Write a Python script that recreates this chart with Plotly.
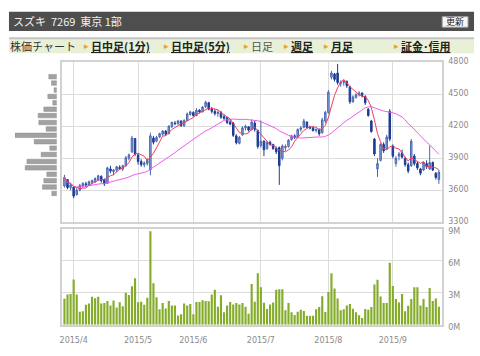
import plotly.graph_objects as go
import pandas as pd

# ---------------- data ----------------
mar = [27, 30, 31]
apr = [1, 2, 3, 6, 7, 8, 9, 10, 13, 14, 15, 16, 17, 20, 21, 22, 23, 24, 27, 28, 30]
may = [1, 7, 8, 11, 12, 13, 14, 15, 18, 19, 20, 21, 22, 25, 26, 27, 28, 29]
jun = [1, 2, 3, 4, 5, 8, 9, 10, 11, 12, 15, 16, 17, 18, 19, 22, 23, 24, 25, 26, 29, 30]
jul = [1, 2, 3, 6, 7, 8, 9, 10, 13, 14, 15, 16, 17, 21, 22, 23, 24, 27, 28, 29, 30, 31]
aug = [3, 4, 5, 6, 7, 10, 11, 12, 13, 14, 17, 18, 19, 20, 21, 24, 25, 26, 27, 28, 31]
sep = [1, 2, 3, 4, 7, 8, 9, 10, 11, 14, 15, 16, 17, 18, 24, 25]
dates = [f"2015-{m:02d}-{d:02d}" for m, days in
         ((3, mar), (4, apr), (5, may), (6, jun), (7, jul), (8, aug), (9, sep)) for d in days]

opens = [3640, 3700, 3625, 3630, 3560, 3600, 3640, 3660, 3650, 3675, 3680, 3700, 3730, 3700, 3665,
         3800, 3775, 3790, 3815, 3800, 3830, 3900, 3960, 4085, 3930, 3870, 3840, 3850, 3790, 4090,
         4060, 4100, 4125, 4155, 4130, 4195, 4230, 4225, 4250, 4205, 4255, 4310, 4330, 4300, 4350,
         4335, 4385, 4420, 4360, 4340, 4320, 4330, 4290, 4280, 4240, 4230, 4110, 4040, 4120, 4185,
         4195, 4170, 4230, 4160, 4020, 4060, 3990, 4050, 4030, 3990, 4000, 3900, 4000, 4010, 4075,
         4110, 4100, 4170, 4190, 4240, 4190, 4185, 4160, 4170, 4140, 4250, 4330, 4660, 4690, 4700,
         4600, 4610, 4620, 4570, 4430, 4470, 4495, 4510, 4480, 4360, 4250, 4080, 3800, 3880, 4030,
         3990, 4340, 4010, 3850, 3920, 3950, 3900, 3840, 3830, 3920, 3850, 3800, 3790, 3850, 3800,
         3860, 3760, 3700]
highs = [3745, 3705, 3670, 3640, 3620, 3660, 3675, 3680, 3690, 3700, 3720, 3745, 3740, 3710, 3820,
         3830, 3800, 3830, 3835, 3840, 3920, 3945, 4110, 4090, 3945, 3890, 3870, 3900, 4140, 4110,
         4110, 4140, 4165, 4165, 4210, 4245, 4250, 4260, 4255, 4265, 4330, 4345, 4340, 4370, 4360,
         4390, 4440, 4430, 4380, 4360, 4350, 4345, 4310, 4290, 4260, 4240, 4125, 4110, 4200, 4215,
         4200, 4265, 4250, 4170, 4255, 4070, 4060, 4065, 4035, 4010, 4010, 4030, 4030, 4080, 4120,
         4125, 4180, 4200, 4270, 4245, 4205, 4200, 4180, 4180, 4280, 4345, 4540, 4720, 4700, 4785,
         4630, 4640, 4630, 4580, 4490, 4510, 4530, 4520, 4490, 4370, 4260, 4090, 3900, 4040, 4050,
         4120, 4360, 4030, 3920, 3960, 3980, 3910, 3860, 4080, 3940, 3870, 3810, 3870, 3880, 4020,
         3870, 3770, 3790]
lows = [3625, 3610, 3600, 3525, 3550, 3590, 3625, 3630, 3640, 3655, 3670, 3690, 3670, 3640, 3660,
        3760, 3740, 3770, 3790, 3780, 3820, 3880, 3950, 3920, 3840, 3820, 3815, 3830, 3740, 4030,
        4050, 4090, 4110, 4110, 4125, 4185, 4210, 4215, 4195, 4195, 4250, 4300, 4290, 4295, 4320,
        4330, 4370, 4350, 4320, 4300, 4290, 4270, 4260, 4220, 4210, 4100, 4030, 4030, 4110, 4160,
        4150, 4160, 4150, 3990, 4000, 3920, 3980, 4020, 3980, 3940, 3650, 3880, 3970, 4000, 4065,
        4080, 4095, 4150, 4180, 4180, 4170, 4150, 4140, 4110, 4130, 4230, 4320, 4640, 4620, 4590,
        4570, 4580, 4560, 4410, 4420, 4460, 4480, 4470, 4400, 4290, 4140, 3920, 3725, 3870, 3950,
        3980, 4060, 3900, 3820, 3880, 3900, 3820, 3760, 3820, 3830, 3790, 3740, 3780, 3800, 3790,
        3780, 3700, 3660]
closes = [3720, 3625, 3650, 3545, 3600, 3645, 3665, 3650, 3680, 3690, 3710, 3735, 3690, 3660, 3810,
          3780, 3790, 3820, 3800, 3830, 3905, 3930, 4090, 3940, 3870, 3840, 3855, 3880, 4110, 4050,
          4095, 4130, 4155, 4125, 4200, 4235, 4225, 4250, 4205, 4255, 4315, 4335, 4300, 4350, 4335,
          4380, 4425, 4360, 4340, 4320, 4330, 4285, 4275, 4235, 4220, 4115, 4045, 4095, 4185, 4200,
          4165, 4240, 4170, 4010, 4060, 3980, 4050, 4030, 3990, 3960, 3830, 4015, 4010, 4070, 4110,
          4095, 4170, 4185, 4250, 4190, 4185, 4160, 4170, 4130, 4260, 4330, 4520, 4700, 4640, 4610,
          4610, 4620, 4580, 4430, 4475, 4495, 4510, 4490, 4420, 4300, 4150, 3940, 3850, 4030, 3970,
          4100, 4080, 3920, 3900, 3940, 3910, 3840, 3780, 4060, 3850, 3810, 3760, 3860, 3820, 3860,
          3790, 3720, 3770]
volume_m = [2.44, 2.83, 2.89, 4.25, 2.83, 1.23, 1.27, 1.87, 1.99, 2.62, 2.50, 2.62, 1.99, 2.05, 2.23,
            1.81, 2.29, 1.63, 2.11, 1.75, 3.01, 2.80, 3.61, 4.37, 2.11, 2.17, 1.87, 2.53, 8.76, 3.89,
            2.59, 1.45, 2.05, 1.54, 2.23, 1.81, 1.81, 0.87, 1.00, 2.00, 1.81, 1.96, 1.00, 2.14, 2.14,
            2.30, 2.23, 2.20, 2.83, 3.28, 1.70, 2.77, 1.17, 1.80, 2.14, 1.90, 2.05, 1.90, 2.05, 1.70,
            1.05, 3.83, 2.17, 4.82, 3.52, 2.08, 1.48, 1.90, 2.10, 3.28, 3.34, 3.34, 1.36, 2.05, 1.17,
            0.93, 1.23, 1.42, 1.30, 0.84, 0.84, 0.84, 1.45, 1.66, 2.68, 1.20, 3.07, 4.82, 3.40, 2.47,
            1.36, 1.45, 1.80, 1.96, 1.50, 1.17, 0.90, 0.63, 1.48, 1.42, 1.66, 3.77, 4.22, 2.65, 2.05,
            2.05, 5.81, 3.64, 2.41, 2.10, 2.89, 1.27, 1.78, 2.41, 3.52, 3.52, 1.80, 2.41, 1.66, 3.46,
            2.23, 2.47, 1.69]

# price-band volume profile (relative)
profile_price = [4665, 4605, 4540, 4480, 4420, 4360, 4300, 4235, 4175, 4115,
                 4055, 3995, 3935, 3870, 3810, 3750, 3690, 3630, 3570]
profile_vol = [8, 5.3, 2.7, 9, 4, 13, 18.7, 18, 10.7, 42,
               22.7, 7, 15.7, 30, 31.7, 10, 13, 14.3, 5]

month_ticks = ["2015-04-01", "2015-05-01", "2015-06-01", "2015-07-01", "2015-08-03", "2015-09-01"]
month_labels = ["2015/4", "2015/5", "2015/6", "2015/7", "2015/8", "2015/9"]
price_ticks = [3300, 3600, 3900, 4200, 4500, 4800]
vol_ticks = [0, 3, 6, 9]
vol_labels = ["0M", "3M", "6M", "9M"]

ma5 = pd.Series(closes).rolling(5, min_periods=1).mean()
ma25 = pd.Series(closes).rolling(25, min_periods=1).mean()

# ---------------- figure ----------------
W, H = 480, 356
def px(x): return x / W
def py(y): return 1 - y / H

fig = go.Figure()

fig.add_trace(go.Candlestick(
    x=dates, open=opens, high=highs, low=lows, close=closes,
    increasing=dict(fillcolor="#8ea8d8", line=dict(color="#4a68b0", width=1)),
    decreasing=dict(fillcolor="#1d3c96", line=dict(color="#1d3c96", width=1)),
    whiskerwidth=0, xaxis="x", yaxis="y", showlegend=False, hoverinfo="skip"))
fig.add_trace(go.Scatter(x=dates, y=ma25, mode="lines", line=dict(color="#ee5cee", width=1),
                         xaxis="x", yaxis="y", showlegend=False, hoverinfo="skip"))
fig.add_trace(go.Scatter(x=dates, y=ma5, mode="lines", line=dict(color="#ee3f5f", width=1),
                         xaxis="x", yaxis="y", showlegend=False, hoverinfo="skip"))
fig.add_trace(go.Bar(x=dates, y=volume_m, marker=dict(color="#84ac2a", line=dict(width=0)),
                     xaxis="x2", yaxis="y2", showlegend=False, hoverinfo="skip"))
fig.add_trace(go.Bar(y=profile_price, x=profile_vol, orientation="h", width=42,
                     marker=dict(color="#a2a2a2", line=dict(color="#8c8c8c", width=0.5)),
                     xaxis="x3", yaxis="y3", showlegend=False, hoverinfo="skip"))

xr = [-0.78, 122.97]
tickfont = dict(family="DejaVu Sans", size=8, color="#8a8a8a")
common_x = dict(type="category", range=xr, tickvals=month_ticks, showgrid=True,
                gridcolor="#dcdcdc", gridwidth=1, showline=True, mirror=True,
                linecolor="#d2d2d2", linewidth=1.5, zeroline=False, ticks="")
fig.update_layout(
    width=W, height=H, margin=dict(l=0, r=0, t=0, b=0),
    paper_bgcolor="white", plot_bgcolor="white", bargap=0.3, boxgap=0.3,
    xaxis=dict(domain=[px(60.3), px(441.7)], anchor="y", showticklabels=False,
               rangeslider=dict(visible=False), **common_x),
    yaxis=dict(domain=[py(224.8), py(59.3)], anchor="x", side="right", range=[3300, 4800],
               tickvals=price_ticks, gridcolor="#dcdcdc", showline=True, mirror=True,
               linecolor="#d2d2d2", linewidth=1.5, zeroline=False, tickfont=tickfont,
               ticks="", ticklabelstandoff=3, ticklabelshift=-1),
    xaxis2=dict(domain=[px(60.3), px(441.7)], anchor="y2", ticktext=month_labels,
                tickfont=tickfont, ticklabelstandoff=7, **common_x),
    yaxis2=dict(domain=[py(331), py(231.5)], anchor="x2", side="right", range=[0, 9],
                tickvals=vol_ticks, ticktext=vol_labels, gridcolor="#dcdcdc", showline=True,
                mirror=True, linecolor="#d2d2d2", linewidth=1.5, zeroline=False,
                tickfont=tickfont, ticks="", ticklabelstandoff=3, ticklabelshift=2),
    xaxis3=dict(domain=[px(13), px(55)], anchor="y3", range=[42, 0], visible=False),
    yaxis3=dict(domain=[py(224.8), py(59.3)], anchor="x3", range=[3300, 4800], visible=False),
)

shapes = [
    dict(type="rect", xref="paper", yref="paper", x0=px(7), x1=px(474), y0=py(27), y1=py(7),
         fillcolor="#4e4e4e", line=dict(width=0), layer="below"),
    dict(type="rect", xref="paper", yref="paper", x0=px(442), x1=px(468), y0=py(23), y1=py(12),
         fillcolor="#f6f6f6", line=dict(color="#9a9a9a", width=1)),
    dict(type="rect", xref="paper", yref="paper", x0=px(7), x1=px(474), y0=py(50), y1=py(35),
         fillcolor="#e8f1d8", line=dict(width=0), layer="below"),
    dict(type="line", xref="paper", yref="paper", x0=px(7), x1=px(474), y0=py(34.5), y1=py(34.5),
         line=dict(color="#c4c4c4", width=2)),
]
fig.update_layout(shapes=shapes)

jp = "Noto Sans CJK JP"
ann = []
def text(x, y, s, size=11, color="#333333", family=jp, xanchor="left"):
    ann.append(dict(x=px(x), y=py(y), xref="paper", yref="paper", text=s, showarrow=False,
                    xanchor=xanchor, yanchor="middle", font=dict(family=family, size=size, color=color)))

text(9, 17, "スズキ  7269  東京 1部", size=11, color="#f2f2f2")
text(455, 17.5, "更新", size=9, color="#222222", xanchor="center")
text(6, 42.5, "株価チャート", size=11, color="#333333")
tabs = [(82, "<b><u>日中足(1分)</u></b>", "#222222"),
        (163, "<b><u>日中足(5分)</u></b>", "#222222"),
        (243, "日足", "#555555"),
        (283, "<b><u>週足</u></b>", "#222222"),
        (323, "<b><u>月足</u></b>", "#222222"),
        (394, "<b><u>証金･信用</u></b>", "#222222")]
for x0, s, c in tabs:
    text(x0 - 2, 42.5, "▸", size=9, color="#f0a020", family="DejaVu Sans")
    text(x0 + 5, 42.5, s, size=11, color=c)
fig.update_layout(annotations=ann)

fig.write_html("out.html")
